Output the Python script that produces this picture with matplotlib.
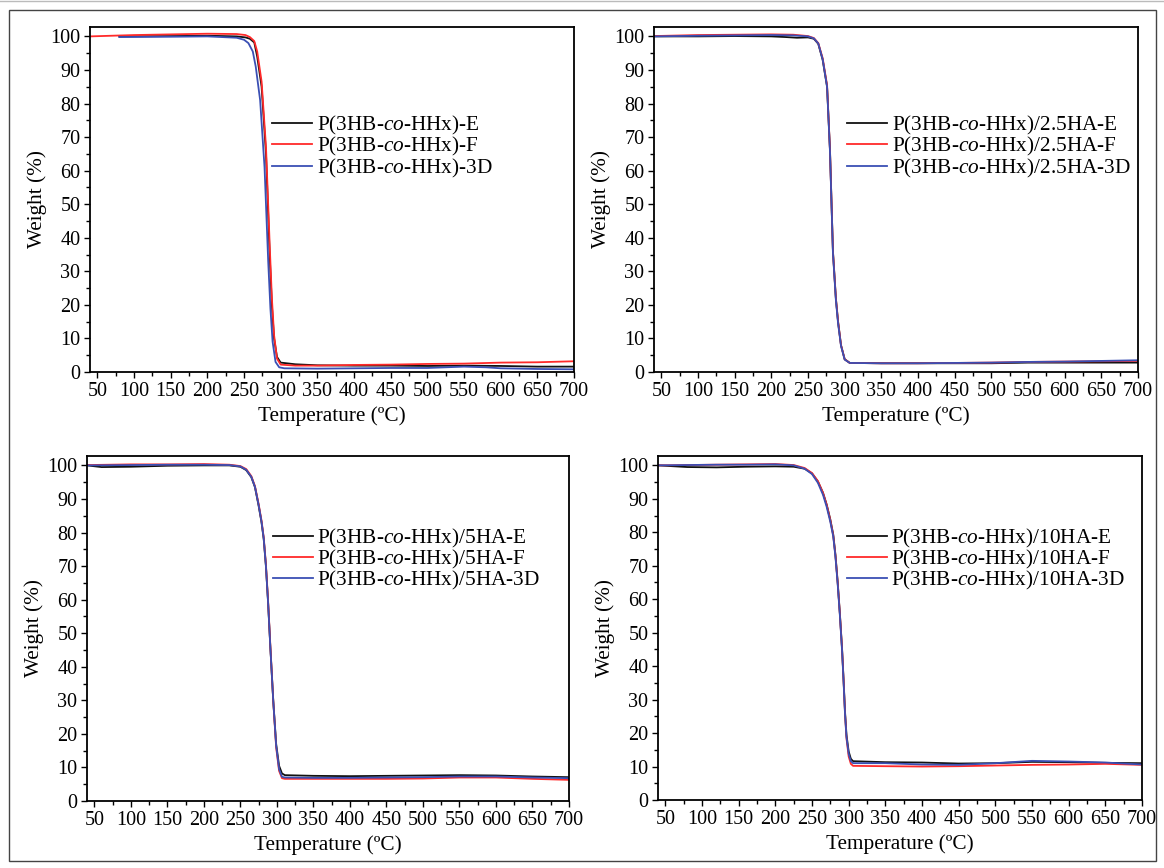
import matplotlib
matplotlib.use("Agg")
import matplotlib.pyplot as plt
from matplotlib.patches import Rectangle
from matplotlib.lines import Line2D
from matplotlib.ticker import MultipleLocator

plt.rcParams['font.family'] = ['Liberation Serif', 'DejaVu Serif']
plt.rcParams['mathtext.fontset'] = 'custom'
plt.rcParams['mathtext.rm'] = 'Liberation Serif'
plt.rcParams['mathtext.it'] = 'Liberation Serif:italic'

# ---------------- data ----------------
# Panel 1 : P(3HB-co-HHx)
p1_E_T = [80, 150, 200, 240, 252, 258, 264, 268, 274, 280, 285, 288, 291, 295, 300, 320, 350, 400, 450, 500, 550, 600, 650, 700]
p1_E_W = [100.0, 100.1, 100.2, 100.0, 99.7, 99.3, 98.2, 94, 85, 65, 35, 20, 10, 4.5, 2.8, 2.3, 2.0, 1.9, 1.9, 1.8, 1.9, 1.8, 1.6, 1.6]
p1_F_T = [40, 100, 150, 200, 240, 252, 258, 264, 268, 274, 280, 285, 288, 291, 295, 300, 320, 350, 400, 450, 500, 550, 600, 650, 700]
p1_F_W = [100.0, 100.4, 100.6, 100.8, 100.7, 100.4, 99.8, 98.6, 95.5, 86.5, 67, 38, 22, 11, 4.0, 2.2, 1.9, 1.9, 2.1, 2.2, 2.4, 2.5, 2.8, 2.9, 3.2]
p1_D_T = [80, 150, 200, 240, 250, 256, 262, 266, 272, 278, 283, 286, 289, 293, 298, 305, 350, 400, 450, 500, 550, 580, 600, 650, 700]
p1_D_W = [99.8, 99.9, 100.0, 99.6, 99.0, 98.0, 95.5, 91, 81, 61, 33, 19, 9, 3, 1.4, 1.1, 1.0, 1.1, 1.2, 1.2, 1.6, 1.4, 1.1, 0.9, 0.8]

# Panel 2 : P(3HB-co-HHx)/2.5HA
p2_E_T = [40, 100, 150, 200, 220, 235, 250, 258, 264, 270, 276, 280, 284, 288, 291, 295, 300, 307, 350, 400, 450, 500, 550, 600, 650, 700]
p2_E_W = [100.0, 100.0, 100.1, 100.0, 99.8, 99.6, 99.7, 99.3, 97.8, 93, 85, 66, 36, 22, 15, 8, 3.8, 2.7, 2.6, 2.6, 2.6, 2.6, 2.8, 2.8, 2.8, 2.8]
p2_F_T = [40, 100, 150, 200, 230, 250, 258, 264, 270, 276, 280, 284, 288, 291, 295, 300, 307, 350, 400, 450, 500, 550, 600, 650, 700]
p2_F_W = [100.1, 100.4, 100.5, 100.6, 100.5, 100.1, 99.5, 98.0, 93.5, 85.5, 66, 36, 22, 15, 8, 3.8, 2.7, 2.6, 2.6, 2.7, 2.8, 3.0, 3.1, 3.2, 3.3]
p2_D_T = [40, 100, 150, 200, 230, 250, 258, 264, 270, 276, 280, 284, 288, 291, 295, 300, 307, 350, 400, 450, 500, 550, 600, 650, 700]
p2_D_W = [100.0, 100.2, 100.3, 100.4, 100.3, 100.0, 99.4, 97.9, 93.2, 85, 65.5, 35.5, 21.5, 14.5, 7.8, 3.7, 2.7, 2.6, 2.6, 2.7, 2.8, 3.0, 3.1, 3.3, 3.5]

# Panel 3 : P(3HB-co-HHx)/5HA
p3_E_T = [40, 60, 100, 150, 200, 235, 250, 258, 265, 270, 275, 279, 282, 285, 288, 291, 295, 299, 303, 307, 311, 350, 400, 450, 500, 550, 600, 650, 700]
p3_E_W = [100.0, 99.5, 99.6, 99.9, 100.0, 100.0, 99.6, 98.6, 96.5, 93.5, 88.0, 83.0, 78.0, 70, 59, 46, 30, 17, 10.5, 8.2, 7.7, 7.5, 7.4, 7.5, 7.6, 7.7, 7.6, 7.3, 7.1]
p3_F_T = [40, 100, 150, 200, 235, 250, 258, 265, 270, 275, 279, 282, 285, 288, 291, 295, 299, 303, 307, 311, 350, 400, 450, 500, 550, 600, 650, 700]
p3_F_W = [100.1, 100.3, 100.3, 100.4, 100.2, 99.8, 98.9, 96.8, 93.8, 88.5, 83.5, 78.5, 70.5, 59.5, 46.5, 30, 16, 9, 6.8, 6.6, 6.6, 6.6, 6.6, 6.7, 7.0, 7.0, 6.6, 6.3]
p3_D_T = [40, 100, 150, 200, 235, 250, 258, 265, 270, 275, 279, 282, 285, 288, 291, 295, 299, 303, 307, 311, 350, 400, 450, 500, 550, 600, 650, 700]
p3_D_W = [100.0, 100.1, 100.2, 100.2, 100.1, 99.7, 98.7, 96.6, 93.6, 88.2, 83.2, 78.2, 70, 59, 46, 30, 16.5, 9.5, 7.2, 7.0, 6.9, 6.9, 7.0, 7.1, 7.3, 7.3, 7.0, 6.8]

# Panel 4 : P(3HB-co-HHx)/10HA
p4_E_T = [40, 80, 120, 160, 200, 225, 240, 250, 258, 265, 270, 275, 279, 282, 285, 288, 291, 293, 295, 297, 300, 303, 306, 350, 400, 450, 500, 550, 600, 650, 700]
p4_E_W = [100.0, 99.5, 99.4, 99.6, 99.7, 99.6, 99.0, 97.6, 95.2, 91.8, 88.3, 83.8, 79.3, 73.2, 65.2, 55.8, 45.2, 36.2, 26.5, 19.5, 14.5, 12.3, 11.6, 11.3, 11.2, 10.9, 11.0, 11.4, 11.3, 11.1, 11.0]
p4_F_T = [40, 80, 120, 160, 200, 225, 240, 250, 258, 265, 270, 275, 279, 282, 285, 288, 291, 293, 295, 297, 300, 303, 306, 350, 400, 450, 500, 550, 600, 650, 700]
p4_F_W = [100.0, 100.1, 100.2, 100.3, 100.4, 100.1, 99.2, 97.7, 95.3, 91.8, 88.2, 83.6, 79.0, 73.0, 65.0, 55.6, 45.0, 36.0, 26.0, 18.5, 13.0, 10.8, 10.2, 10.1, 10.0, 10.1, 10.3, 10.5, 10.6, 10.8, 10.5]
p4_D_T = [40, 80, 120, 160, 200, 225, 240, 250, 258, 265, 270, 275, 279, 282, 285, 288, 291, 293, 295, 297, 300, 303, 306, 350, 400, 450, 500, 550, 600, 650, 700]
p4_D_W = [100.0, 100.1, 100.2, 100.2, 100.3, 100.0, 99.0, 97.4, 94.8, 91.2, 87.6, 83.1, 78.7, 72.6, 64.6, 55.2, 44.6, 35.6, 25.8, 18.8, 13.8, 11.6, 11.0, 11.0, 10.6, 10.5, 11.0, 11.7, 11.5, 11.2, 10.6]

legend_labels = [
    ['P(3HB-$\\mathit{co}$-HHx)-E', 'P(3HB-$\\mathit{co}$-HHx)-F', 'P(3HB-$\\mathit{co}$-HHx)-3D'],
    ['P(3HB-$\\mathit{co}$-HHx)/2.5HA-E', 'P(3HB-$\\mathit{co}$-HHx)/2.5HA-F', 'P(3HB-$\\mathit{co}$-HHx)/2.5HA-3D'],
    ['P(3HB-$\\mathit{co}$-HHx)/5HA-E', 'P(3HB-$\\mathit{co}$-HHx)/5HA-F', 'P(3HB-$\\mathit{co}$-HHx)/5HA-3D'],
    ['P(3HB-$\\mathit{co}$-HHx)/10HA-E', 'P(3HB-$\\mathit{co}$-HHx)/10HA-F', 'P(3HB-$\\mathit{co}$-HHx)/10HA-3D'],
]
x_ticks = [50, 100, 150, 200, 250, 300, 350, 400, 450, 500, 550, 600, 650, 700]
y_ticks = [0, 10, 20, 30, 40, 50, 60, 70, 80, 90, 100]
x_label = 'Temperature (ºC)'
y_label = 'Weight (%)'

panels = [
    [(p1_E_T, p1_E_W), (p1_F_T, p1_F_W), (p1_D_T, p1_D_W)],
    [(p2_E_T, p2_E_W), (p2_F_T, p2_F_W), (p2_D_T, p2_D_W)],
    [(p3_E_T, p3_E_W), (p3_F_T, p3_F_W), (p3_D_T, p3_D_W)],
    [(p4_E_T, p4_E_W), (p4_F_T, p4_F_W), (p4_D_T, p4_D_W)],
]
colors = ['#111111', '#ff2a2a', '#3a4fb4']

W, H = 1164, 868
fig = plt.figure(figsize=(W / 100, H / 100), dpi=100)

# axes rectangles in pixels: left, top, right, bottom
rects = [(90, 27, 574, 372), (654, 27, 1138, 372), (87, 456, 569, 801), (658, 456, 1142, 800)]
leg_anchor = [(0.376, 0.748), (0.399, 0.748), (0.385, 0.795), (0.390, 0.795)]

fs_tick = 14.5
fs_lab = 15.3
fs_leg = 15.3
for i, (l, t, r, b) in enumerate(rects):
    ax = fig.add_axes([l / W, 1 - b / H, (r - l) / W, (b - t) / H])
    for (tt, ww), c, lab in zip(panels[i], colors, legend_labels[i]):
        ax.plot(tt, ww, color=c, lw=1.3, label=lab)
    ax.set_xlim(40, 700)
    ax.set_ylim(0, 102.8)
    ax.set_xticks(x_ticks)
    ax.set_yticks(y_ticks)
    ax.xaxis.set_minor_locator(MultipleLocator(25))
    ax.yaxis.set_minor_locator(MultipleLocator(5))
    ax.tick_params(which='both', direction='out', top=False, right=False, labelsize=fs_tick, width=1.0, pad=2.5)
    ax.tick_params(which='major', length=4.5)
    ax.tick_params(which='minor', length=2.8)
    for s in ax.spines.values():
        s.set_linewidth(1.3)
    ax.set_xlabel(x_label, fontsize=fs_lab, labelpad=4)
    ax.set_ylabel(y_label, fontsize=fs_lab, labelpad=2)
    ax.legend(loc='upper left', bbox_to_anchor=leg_anchor[i], frameon=False, fontsize=fs_leg,
              borderpad=0, borderaxespad=0, labelspacing=-0.08, handlelength=1.9,
              handletextpad=0.2)

fig.patches.append(Rectangle((9 / W, 1 - 861 / H), (1156 - 9) / W, (861 - 10) / H,
                             transform=fig.transFigure, fill=False, edgecolor='#444444', lw=1.0))
fig.lines.append(Line2D([0, 1], [1 - 0.8 / H, 1 - 0.8 / H], transform=fig.transFigure,
                        color='#bbbbbb', lw=1.0))

fig.savefig('out.png', dpi=100)
